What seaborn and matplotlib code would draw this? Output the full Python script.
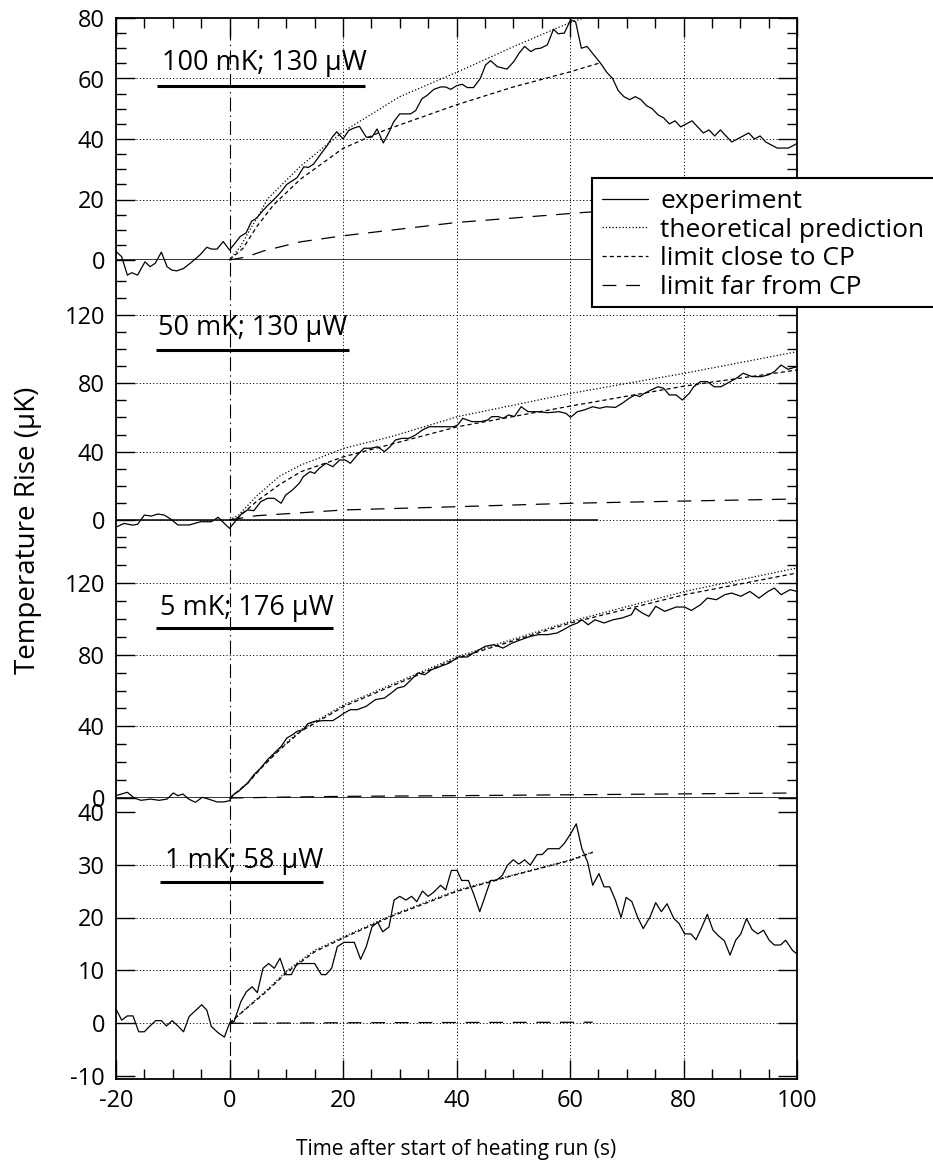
import matplotlib
matplotlib.use('Agg')
import matplotlib.pyplot as plt
from matplotlib.lines import Line2D
from matplotlib.patches import Rectangle
from matplotlib.ticker import MultipleLocator
import seaborn as sns

# ---------------- data ----------------
labels = ['100 mK; 130 \u03bcW', '50 mK; 130 \u03bcW', '5 mK; 176 \u03bcW', '1 mK; 58 \u03bcW']
legend_labels = ['experiment', 'theoretical prediction', 'limit close to CP', 'limit far from CP']

# panel 1 : 100 mK
p1_exp_t = [-20, -19, -18, -17.2, -16.2, -14.9, -14, -13.1, -12, -11, -10.2, -9.3, -8.1, -6.6, -5.2, -4,
            -3.1, -2.2, -1.1, 0, 1, 1.9, 2.9, 3.9, 4.8, 5.7, 6.6, 7.5, 8.4, 9.2, 10.1, 11, 11.9, 13.1, 13.9,
            14.8, 16, 17.2, 18.1, 18.9, 20, 21, 21.9, 22.9, 24.1, 25.1, 26, 27.1, 28.1, 28.9, 30, 31, 31.9,
            32.8, 33.9, 34.8, 36, 37.2, 38.1, 39, 40, 41, 41.9, 43, 44.2, 45.1, 46, 47.2, 48.9, 50.1, 51, 52,
            53.1, 53.9, 54.8, 56, 57.1, 57.9, 59, 60.1, 61, 62, 63, 64.2, 65.4, 66.5, 67.5, 68.5, 69.5, 70.5,
            71.5, 72.5, 73.5, 74.5, 75.5, 76.5, 77.5, 78.5, 79.5, 80.5, 81.5, 82.5, 83.5, 84.5, 85.5, 86.5,
            87.5, 88.5, 89.5, 90.5, 91.5, 92.5, 93.5, 94.5, 95.5, 96.5, 97.5, 98.5, 99.5, 100]
p1_exp_T = [2.8, 1.1, -5, -4.2, -5, -0.6, -2.2, -1.1, 2.6, -2.2, -3.3, -3.6, -2.8, -0.6, 1.7, 4.2,
            3.6, 3.6, 6.1, 3.3, 5.6, 7.8, 8.9, 12.8, 13.9, 15.9, 17.8, 19.4, 21.1, 22.8, 25, 26.1, 27.2, 30.8, 30.6,
            31.7, 34.8, 37.8, 40.6, 42.4, 40, 42.8, 43.6, 44.2, 40.6, 40.6, 43.3, 38.7, 42.2, 45.6, 48.3, 48.3, 48.3,
            49.4, 53.3, 54.4, 56.4, 57.2, 57.2, 56.4, 57.6, 58.1, 57, 57, 60, 64.4, 65.9, 63.9, 63.1, 65.6, 68.3, 70.6,
            68.9, 69.8, 70, 71.1, 76.3, 74.8, 75, 79.4, 78.7, 70, 70.6, 67.8, 65, 62, 60, 56, 54, 53,
            54, 53, 51, 50, 48, 47, 45, 46, 44, 45, 46, 44, 42, 43, 41, 43,
            41, 39, 40, 41, 42, 40, 41, 39, 38, 37, 37, 37, 38, 38.5]
p1_theory_t = [0, 1.9, 3.6, 5.4, 6.6, 12.5, 20, 30, 40, 50, 60, 62.5]
p1_theory_T = [0, 4.4, 10, 15.6, 20, 31, 42.4, 54, 62, 70.5, 78.5, 80]
p1_close_t = [0, 2.4, 4.8, 7.8, 12.5, 20, 27.2, 40, 50, 60, 65]
p1_close_T = [0, 3.9, 11, 18.3, 26.7, 36.9, 42.8, 51.3, 57.2, 62.2, 65]
p1_far_t = [0, 3, 6, 12.5, 20, 40, 63, 65]
p1_far_T = [0, 1, 3, 6, 8, 12.4, 15.8, 16]

# panel 2 : 50 mK
p2_exp_t = [-19.8, -18.6, -17, -16.2, -15, -13.8, -12.6, -11.5, -10.3, -9.1, -7.1, -5.1, -3.2, -2, -0.9, 0,
            1.2, 2.2, 3.2, 4.3, 5.5, 6.7, 7.9, 9.1, 9.9, 11.1, 12.3, 13, 14.2, 15, 15.8, 17, 18.2, 19.4, 20.4,
            21.3, 22.5, 23.7, 24.9, 26.1, 27.3, 28.3, 29.2, 30.4, 31.6, 32.8, 34, 35.2, 36.8, 38.3, 39.5, 40.2,
            41.1, 42.7, 44.3, 45.5, 46.2, 47.4, 48.2, 49.2, 50.2, 51.4, 52.6, 54.2, 56.1, 58.1, 59.3, 60.1, 61.3,
            62.5, 64, 65.2, 66.4, 68, 69.2, 70.4, 71.5, 72.3, 73.1, 74.3, 75.5, 76.5, 77.5, 78.7, 79.8, 81, 81.8,
            83, 84.2, 85.4, 86.6, 87.7, 89.3, 90.5, 92.1, 93.7, 94.9, 96, 97.2, 98.4, 100]
p2_exp_T = [-3.9, -2, -3, -2.5, 2.9, 2.3, 3.5, 2.9, 0.4, -2.9, -2.9, -1, -1, 1.6, -2, -4.9,
            0, 3.9, 5.9, 5.5, 10.7, 12.7, 12.7, 9.8, 14.6, 17.6, 21.5, 25.4, 28.3, 27.3, 30.2, 33.2, 31.2, 35.1, 35.1,
            33.2, 38, 42, 42, 42.9, 40, 42.9, 46.8, 47.8, 47.8, 49.8, 52.7, 54.6, 54.6, 54.6, 54.6, 55.6,
            59.5, 57.6, 57.6, 58.5, 60.5, 60.5, 59.5, 61.5, 60.5, 66.3, 63.4, 63.4, 62.8, 63.4, 62.4, 60.1, 63.4,
            64.4, 66.3, 65.4, 66.3, 65.9, 68.3, 71.2, 73.2, 72.2, 74.1, 76.1, 78, 77.1, 73.2, 73.2, 70.2, 74.1, 78,
            81, 81, 78, 78, 80, 82.9, 85.9, 83.9, 83.9, 84.9, 86.8, 90.7, 88.2, 89.8]
p2_theory_t = [0, 1.6, 4.7, 8.7, 12.6, 20.2, 28.5, 40.2, 60.1, 80.2, 100]
p2_theory_T = [0, 2.9, 13.7, 25.4, 32.2, 42, 48.8, 60.5, 74.1, 85.9, 98.5]
p2_close_t = [0, 1.6, 4.7, 8.7, 12.6, 20.2, 40.2, 60.1, 80.2, 100]
p2_close_T = [0, 1.6, 10.7, 20.5, 28.3, 37.1, 54.6, 66.7, 78.4, 87.8]
p2_far_t = [0, 4.7, 20.2, 40.2, 60.1, 80.2, 100]
p2_far_T = [0, 2.5, 5.9, 7.8, 9.8, 11.1, 12.3]

# panel 3 : 5 mK
p3_exp_t = [-20, -18, -16.8, -15.6, -13.9, -12.4, -11, -9.9, -9.1, -8.2, -7.2, -6, -4.8, -3.7, -2.2, -1, 0,
            0.7, 1.6, 3.2, 4.3, 5.5, 6.7, 7.9, 9.1, 10.1, 11.1, 11.9, 13, 13.8, 15, 16.6, 18.2, 19.4, 20.2, 21.3,
            22.5, 24.1, 25.7, 27.3, 28.5, 29.6, 30.8, 32, 33.2, 34.4, 35.6, 37.2, 38.7, 40.3, 41.9, 43.5, 45.1,
            46.6, 48.2, 49.8, 51.4, 53, 54.5, 56.1, 57.7, 58.9, 60.1, 61.3, 62.1, 63.2, 64.4, 66, 67.6, 69.2,
            70.8, 71.5, 72.7, 73.9, 75.1, 76.7, 78.7, 80.2, 81.4, 83, 84.2, 85.8, 87.3, 88.5, 90.1, 91.7, 93.3,
            94.9, 96, 97.2, 98.8, 100]
p3_exp_T = [1.3, 3.2, 0, -1.3, -0.6, -1.3, -0.6, 2.8, 1.3, 2.2, -0.6, -2.4, 0.4, -0.6, -2.2, -2.2, -1.5,
            1.9, 3.7, 8.4, 13, 16.7, 21.4, 25.1, 28.8, 33.5, 35.3, 37.2, 38.1, 41.5, 42.8, 43.2, 43.2, 45.6, 47.4, 49.3,
            49.3, 51.2, 54.9, 55.8, 58.6, 61.4, 62.3, 66, 69.8, 68.8, 71.6, 73.5, 75.3, 78.7, 78.7, 81.9, 84.7,
            85.6, 83.7, 86.5, 88.4, 90.2, 91.2, 91.2, 92.1, 94, 96.2, 97.7, 99.5, 96.7, 99.5, 97.7, 99.5, 100.5,
            102.3, 106, 103.3, 101.4, 107, 104.2, 106.6, 106.6, 104.7, 107.9, 111.6, 110.7, 113.5, 114.4, 112.6, 115.3, 111.6,
            115.3, 117.2, 113.5, 116.3, 115.3]
p3_theory_t = [0, 3.2, 5.5, 8.7, 12.6, 20.2, 40.2, 60.1, 80.2, 100]
p3_theory_T = [0, 8.4, 16.7, 27, 38.1, 52.1, 79, 98.6, 115.3, 128.4]
p3_close_t = [0, 3.2, 5.5, 8.7, 12.6, 20.2, 40.2, 60.1, 80.2, 100]
p3_close_T = [0, 8.2, 16.4, 26.5, 37.3, 51.2, 78.1, 97.7, 113.5, 125.6]
p3_far_t = [0, 10, 20, 40, 60, 80, 100]
p3_far_T = [0, 0.5, 0.9, 1.3, 1.8, 2.3, 2.8]

# panel 4 : 1 mK
p4_exp_t = [-19.9, -19, -18, -17, -16, -15, -14.1, -13, -12, -11.1, -10.1, -9.1, -8.1, -7.1, -5.9, -4.9, -4,
            -3.2, -2, -0.9, 0, 0.8, 2, 3, 4, 4.9, 5.9, 6.9, 7.9, 8.9, 9.9, 10.9, 11.9, 13.4, 15, 16.2, 17, 18,
            19, 20.2, 22, 23.1, 24.1, 25.1, 26.1, 27, 28.1, 29, 30, 31.1, 32.1, 33, 34, 35, 36, 37.2, 38.1, 39.1,
            40.1, 40.9, 42.1, 43.1, 44.1, 45.1, 46, 47, 48.1, 49, 50, 51, 52, 53, 54.2, 55.1, 56.1, 57.1, 58.1,
            59, 60.1, 61.1, 62.1, 63.1, 64, 65.1, 66, 67, 68, 69, 69.9, 70.9, 71.9, 72.9, 74.1, 75.1, 76.1, 77.1,
            78.3, 79.2, 80.2, 81.3, 82.2, 83.2, 84.2, 85.2, 86.2, 87.2, 88.2, 89.2, 90.1, 91.1, 92.1, 93.1, 94.1,
            95.1, 96, 97.1, 98, 99.2, 100]
p4_exp_T = [2.5, 0.6, 1.4, 1.4, -1.6, -1.6, -0.6, 0.5, 0.5, -0.5, 0.5, -0.5, -1.6, 1.3, 2.5, 3.5, 2.5,
            -0.6, -1.8, -2.6, 0, 0.3, 4.1, 6, 6.9, 5.8, 10.4, 11.3, 10.4, 12.3, 9.2, 9.2, 11.3, 11.3, 11.3, 9.2, 9.2, 10.4,
            14.5, 15.3, 15.3, 12.1, 14.5, 18.2, 19.1, 17.3, 18.2, 23.3, 24, 23.3, 24, 23, 25, 24, 24.8, 26.1, 25.2, 28.9,
            28.9, 27, 27, 24.2, 21.1, 24.2, 27, 27, 28, 29.9, 30.9, 30.1, 30.9, 29.9, 31.9, 31.9, 33, 33, 33,
            34, 35.8, 37.7, 33, 30.5, 26.1, 28.3, 25.8, 25.8, 23.3, 20, 23.8, 23, 20.1, 17.9, 20.1, 22.8, 21.1, 22.6,
            19.8, 18.9, 16.9, 16.9, 15.8, 18.1, 20.6, 17.6, 16.5, 15.6, 12.9, 15.7, 16.9, 19.8, 17.7, 16.9, 17.6,
            15.7, 14.8, 14.8, 15.7, 13.8, 13.1]
p4_theory_t = [0, 3.2, 6.3, 10.3, 15, 20.2, 28.5, 40.2, 49.8, 60.1, 64]
p4_theory_T = [0, 3.1, 6, 10.1, 13.8, 16.4, 20.4, 25.2, 28, 30.9, 32.4]
p4_close_t = [0, 3.2, 6.3, 10.3, 15, 20.2, 28.5, 40.2, 49.8, 60.1, 64]
p4_close_T = [0, 3, 5.8, 9.8, 13.5, 16.2, 20.2, 25, 27.9, 30.8, 32.3]
p4_far_t = [0, 20, 40, 64]
p4_far_T = [0, 0.1, 0.15, 0.2]

# ---------------- layout ----------------
W, H = 933, 1176
FS = 17                      # tick labels
FS_LAB = 19.5                # panel labels
FS_LEG = 19                  # legend
X0, X1 = 116, 797            # frame left / right in pixels
TOP, BOT = 18, 1079          # frame top / bottom in pixels

# (ymin, ymax, pixel of ymin, pixel of ymax, major, minor, gridlines, zero line end)
panel_layout = [
    (0, 80, 260, 18, 20, 5, [20, 40, 60], 65),
    (-10, 140, 537.1, 280.8, 40, 10, [0, 40, 80, 120], 65),
    (0, 140, 798, 547.2, 40, 10, [0, 40, 80, 120], 100),
    (-10, 40, 1076.2, 811.7, 10, None, [0, 10, 20, 30], None),
]
# label text position (x, baseline y) and underline (x0, x1, y) in data units
label_pos = [(-11.9, 62.7, -12.8, 23.9, 57.6),
             (-12.6, 108.3, -13.0, 21.0, 99.5),
             (-12.2, 102.3, -12.9, 18.3, 94.9),
             (-11.4, 29.4, -12.2, 16.5, 26.7)]

sns.set_style('ticks', {'axes.edgecolor': 'black', 'xtick.color': 'black', 'ytick.color': 'black',
                        'text.color': 'black', 'axes.labelcolor': 'black'})
plt.rcParams['font.family'] = ['Open Sans', 'DejaVu Sans']
plt.rcParams['lines.scale_dashes'] = False
plt.rcParams['axes.unicode_minus'] = False

LW = 0.9
st_exp = dict(color='black', lw=LW, linestyle='-')
st_theory = dict(color='black', lw=LW, linestyle=(0, (0.9, 1.5)))
st_close = dict(color='black', lw=LW, linestyle=(0, (3, 2.2)))
st_far = dict(color='black', lw=LW, linestyle=(0, (10, 7)))
grid_ls = (0, (0.8, 1.6))

fig = plt.figure(figsize=(W / 100, H / 100), dpi=100)


def rect(top, bottom):
    return [X0 / W, 1 - bottom / H, (X1 - X0) / W, (bottom - top) / H]


frame = fig.add_axes(rect(TOP, BOT))
frame.set_xlim(-20, 100)
frame.set_ylim(0, 1)
frame.set_yticks([])
frame.xaxis.set_major_locator(MultipleLocator(20))
frame.xaxis.set_minor_locator(MultipleLocator(5))
frame.tick_params(axis='x', which='both', direction='in', top=True, bottom=True,
                  labelsize=FS, pad=7, width=1)
frame.tick_params(axis='x', which='major', length=14)
frame.tick_params(axis='x', which='minor', length=7)
for sp in frame.spines.values():
    sp.set_linewidth(1.3)
for xv in [20, 40, 60, 80]:
    frame.axvline(xv, color='black', lw=0.7, linestyle=grid_ls)
frame.axvline(0, color='black', lw=0.8, linestyle=(0, (10, 3, 1, 3)))

series = [
    (p1_exp_t, p1_exp_T, p1_theory_t, p1_theory_T, p1_close_t, p1_close_T, p1_far_t, p1_far_T),
    (p2_exp_t, p2_exp_T, p2_theory_t, p2_theory_T, p2_close_t, p2_close_T, p2_far_t, p2_far_T),
    (p3_exp_t, p3_exp_T, p3_theory_t, p3_theory_T, p3_close_t, p3_close_T, p3_far_t, p3_far_T),
    (p4_exp_t, p4_exp_T, p4_theory_t, p4_theory_T, p4_close_t, p4_close_T, p4_far_t, p4_far_T),
]

for i, (lay, data) in enumerate(zip(panel_layout, series)):
    ymin, ymax, pmin, pmax, major, minor, grid, zero_end = lay
    ax = fig.add_axes(rect(pmax, pmin))
    ax.patch.set_alpha(0)
    for sp in ax.spines.values():
        sp.set_visible(False)
    ax.set_xlim(-20, 100)
    ax.set_ylim(ymin, ymax)
    ax.xaxis.set_visible(False)
    ax.yaxis.set_major_locator(MultipleLocator(major))
    if minor:
        ax.yaxis.set_minor_locator(MultipleLocator(minor))
    ax.tick_params(axis='y', which='both', direction='in', left=True, right=True,
                   labelleft=True, labelright=False, labelsize=FS, pad=8, width=1)
    ax.tick_params(axis='y', which='major', length=14)
    ax.tick_params(axis='y', which='minor', length=7)

    for g in grid:
        ax.axhline(g, color='black', lw=0.7, linestyle=grid_ls)
    if zero_end is not None:
        ax.hlines(0, -20, zero_end, color='black', lw=1.1)

    et, eT, tt, tT, ct, cT, ft, fT = data
    sns.lineplot(x=ft, y=fT, ax=ax, sort=False, estimator=None, clip_on=False, **st_far)
    sns.lineplot(x=ct, y=cT, ax=ax, sort=False, estimator=None, clip_on=False, **st_close)
    sns.lineplot(x=tt, y=tT, ax=ax, sort=False, estimator=None, clip_on=False, **st_theory)
    sns.lineplot(x=et, y=eT, ax=ax, sort=False, estimator=None, clip_on=False, **st_exp)
    ax.set_xlim(-20, 100)
    ax.set_ylim(ymin, ymax)

    lx, ly, ux0, ux1, uy = label_pos[i]
    ax.text(lx, ly, labels[i], fontsize=FS_LAB, ha='left', va='baseline')
    ax.plot([ux0, ux1], [uy, uy], color='black', lw=2.2, solid_capstyle='butt', clip_on=False)

# legend box running off the right edge
fig.patches.append(Rectangle((592 / W, 1 - 307 / H), (980 - 592) / W, (307 - 178) / H,
                             transform=fig.transFigure, facecolor='white', edgecolor='black',
                             lw=1.5, zorder=4))
handles = [Line2D([], [], **st_exp), Line2D([], [], **st_theory),
           Line2D([], [], **st_close), Line2D([], [], **st_far)]
fig.legend(handles, legend_labels, loc='upper left', bbox_to_anchor=(602 / W, 1 - 189 / H),
           frameon=False, borderpad=0, borderaxespad=0, handlelength=1.75, handletextpad=0.45,
           labelspacing=0.14, fontsize=FS_LEG)

fig.text(28 / W, 1 - 530 / H, 'Temperature Rise (\u03bcK)', rotation=90, ha='center', va='center',
         fontsize=20)
fig.text(456 / W, 1 - 1150 / H, 'Time after start of heating run (s)', ha='center', va='center',
         fontsize=15)

fig.savefig('out.png', dpi=100)
